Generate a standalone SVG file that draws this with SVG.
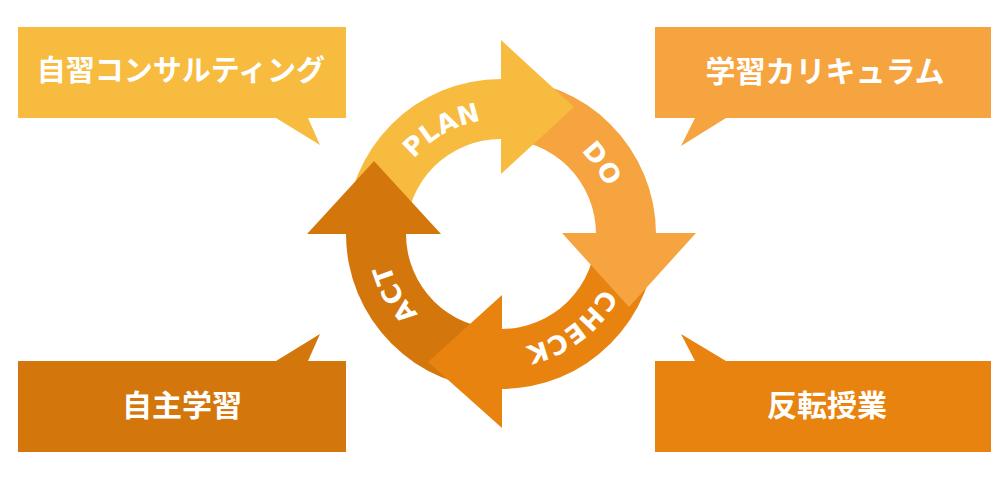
<svg xmlns="http://www.w3.org/2000/svg" width="1000" height="480" viewBox="0 0 1000 480">
  <defs>
    <style>
      .jp { font-family: "Noto Sans CJK JP", "Noto Sans", sans-serif; font-weight: 700; fill: #ffffff; text-anchor: middle; }
      .lbl { font-family: "DejaVu Sans", "Open Sans", sans-serif; font-weight: 700; font-size: 26px; fill: #ffffff; letter-spacing: 0.5px; text-anchor: middle; }
      .c-plan { fill: #F7BB40; }
      .c-do { fill: #F6A440; }
      .c-check { fill: #E8830F; }
      .c-act { fill: #D3770C; }
    </style>
    <path id="labelRing" d="M 501,119 A 115 115 0 1 1 501,349 A 115 115 0 1 1 501,119"/>
  </defs>
  <rect width="1000" height="480" fill="#ffffff"/>

  <g id="callout-consulting">
    <path class="c-plan" d="M 18,27 H 346 V 118 H 308 L 320,145 L 276,118 H 18 Z"/>
    <text class="jp" x="181" y="81" font-size="29">自習コンサルティング</text>
  </g>
  <g id="callout-curriculum">
    <path class="c-do" d="M 655,27 H 991 V 118 H 726 L 681,146 L 695,118 H 655 Z"/>
    <text class="jp" x="825" y="82" font-size="30">学習カリキュラム</text>
  </g>
  <g id="callout-self-study">
    <path class="c-act" d="M 18,361 H 276 L 320,334 L 308,361 H 346 V 452 H 18 Z"/>
    <text class="jp" x="182" y="416" font-size="30">自主学習</text>
  </g>
  <g id="callout-flipped">
    <path class="c-check" d="M 655,361 H 695 L 681,334 L 726,361 H 991 V 452 H 655 Z"/>
    <text class="jp" x="827" y="416" font-size="30">反転授業</text>
  </g>

  <g id="connectors">
    <g id="cycle-bands">
      <path id="band-plan" class="c-plan" d="M 346,234 A 155 155 0 0 1 501,79 L 501,139 A 95 95 0 0 0 406,234 Z"/>
      <path id="band-do" class="c-do" d="M 501,79 A 155 155 0 0 1 656,234 L 596,234 A 95 95 0 0 0 501,139 Z"/>
      <path id="band-check" class="c-check" d="M 656,234 A 155 155 0 0 1 501,389 L 501,329 A 95 95 0 0 0 596,234 Z"/>
      <path id="band-act" class="c-act" d="M 501,389 A 155 155 0 0 1 346,234 L 406,234 A 95 95 0 0 0 501,329 Z"/>
    </g>
    <g id="cycle-arrowheads">
      <polygon id="head-plan" class="c-plan" points="501,40 574,107 501,174"/>
      <polygon id="head-do" class="c-do" points="562,233 696,233 629,307"/>
      <polygon id="head-check" class="c-check" points="502,295 502,428 428,362"/>
      <polygon id="head-act" class="c-act" points="307,234 441,234 374,161"/>
    </g>
  </g>

  <g id="step-plan"><text class="lbl"><textPath href="#labelRing" startOffset="91.8%">PLAN</textPath></text></g>
  <g id="step-do"><text class="lbl"><textPath href="#labelRing" startOffset="15.3%">DO</textPath></text></g>
  <g id="step-check"><text class="lbl"><textPath href="#labelRing" startOffset="39.7%">CHECK</textPath></text></g>
  <g id="step-act"><text class="lbl"><textPath href="#labelRing" startOffset="66.8%">ACT</textPath></text></g>
</svg>
